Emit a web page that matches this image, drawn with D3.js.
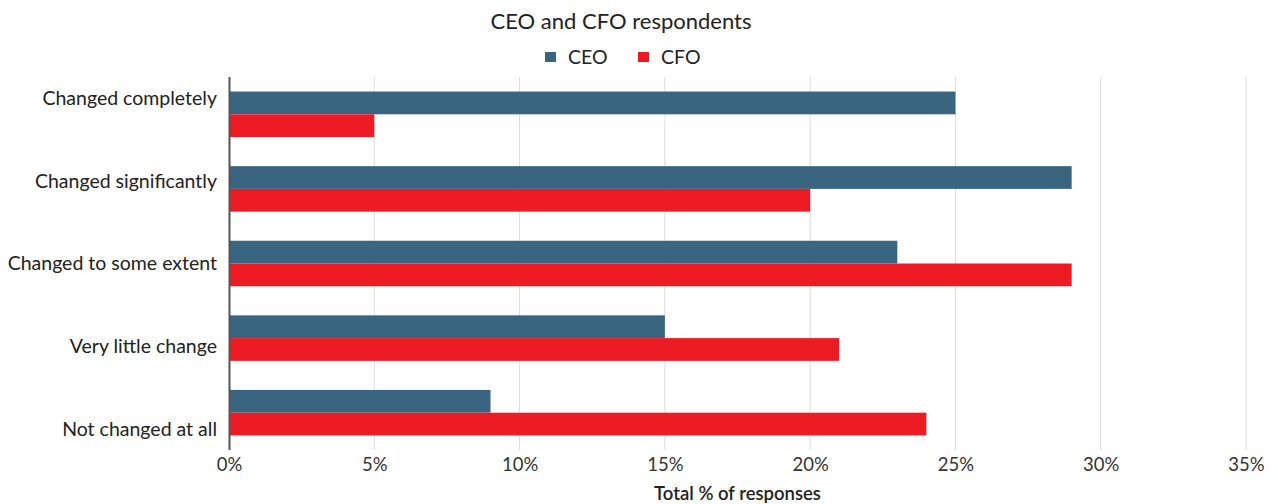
<!DOCTYPE html>
<html>
<head>
<meta charset="utf-8">
<script src="https://cdn.jsdelivr.net/npm/d3@7"></script>
<style>
    body { margin: 0; background: #fff; }
    text { font-family: Lato, "Open Sans", sans-serif; fill: #222; }
</style>
</head>
<body>
<svg id="chart" width="1278" height="504"></svg>
<script>
    // chart data
    var categories = ["Changed completely", "Changed significantly", "Changed to some extent", "Very little change", "Not changed at all"];
    var seriesNames = ["CEO", "CFO"];
    var ceoValues = [25, 29, 23, 15, 9];
    var cfoValues = [5, 20, 29, 21, 24];
    var xTicks = [0, 5, 10, 15, 20, 25, 30, 35];
    var colors = {CEO: "#3a6580", CFO: "#ed1c24"};

    var svg = d3.select("svg#chart"),
        margin = {top: 77, right: 32, bottom: 54, left: 229},
        width = 1278 - margin.left - margin.right,
        height = 504 - margin.top - margin.bottom,
        g = svg.append("g").attr("transform", "translate(" + margin.left + "," + margin.top + ")");

    var rows = categories.map(function (c, i) {
        return {cat: c, CEO: ceoValues[i], CFO: cfoValues[i]};
    });

    var x = d3.scaleLinear().domain([0, 35]).range([0, width]);
    var y = d3.scaleBand().domain(categories).range([0, height]).paddingInner(0.39).paddingOuter(0.195);
    var y1 = d3.scaleBand().domain(seriesNames).range([0, y.bandwidth()]);
    // category labels are spread a bit wider than the bands in the original
    var yLabel = d3.scalePoint().domain(categories).range([21, 352]);

    // grid
    g.append("g").selectAll("line")
        .data(xTicks.slice(1))
        .enter().append("line")
        .attr("x1", function (d) { return x(d); })
        .attr("x2", function (d) { return x(d); })
        .attr("y1", 0)
        .attr("y2", height)
        .attr("stroke", "#dcdcdc")
        .attr("stroke-width", 1);

    // bars
    var groups = g.selectAll(".cat")
        .data(rows)
        .enter().append("g")
        .attr("class", "cat")
        .attr("transform", function (d) { return "translate(0," + y(d.cat) + ")"; });

    groups.selectAll("rect")
        .data(function (d) {
            return seriesNames.map(function (s) { return {key: s, value: d[s]}; });
        })
        .enter().append("rect")
        .attr("x", 0)
        .attr("y", function (d) { return y1(d.key); })
        .attr("height", y1.bandwidth())
        .attr("width", function (d) { return x(d.value); })
        .attr("fill", function (d) { return colors[d.key]; });

    // x axis
    var xAxis = g.append("g")
        .attr("transform", "translate(0," + height + ")")
        .call(d3.axisBottom(x).tickValues(xTicks).tickSize(0).tickPadding(8)
            .tickFormat(function (d) { return d + "%"; }));
    xAxis.select(".domain").remove();
    xAxis.selectAll("text").style("font-size", "18.5px").style("fill", "#333");

    // y axis
    var yAxis = g.append("g")
        .call(d3.axisLeft(yLabel).tickSize(0).tickPadding(12));
    yAxis.select(".domain").attr("d", "M0.5,0V" + height).attr("stroke", "#555").attr("stroke-width", 2);
    yAxis.selectAll("text").style("font-size", "19.5px").style("fill", "#222");

    // title
    svg.append("text")
        .attr("x", 621)
        .attr("y", 29)
        .attr("text-anchor", "middle")
        .style("font-size", "22px")
        .text("CEO and CFO respondents");

    // legend
    var legend = svg.append("g").attr("transform", "translate(545,52)");
    var legendX = [0, 93];
    seriesNames.forEach(function (s, i) {
        var item = legend.append("g").attr("transform", "translate(" + legendX[i] + ",0)");
        item.append("rect").attr("width", 11).attr("height", 10).attr("fill", colors[s]);
        item.append("text")
            .attr("x", 23)
            .attr("y", 12)
            .style("font-size", "19.5px")
            .text(s);
    });

    // axis title
    svg.append("text")
        .attr("x", margin.left + width / 2)
        .attr("y", 500)
        .attr("text-anchor", "middle")
        .style("font-size", "18.5px")
        .style("font-weight", "600")
        .text("Total % of responses");
</script>
</body>
</html>
